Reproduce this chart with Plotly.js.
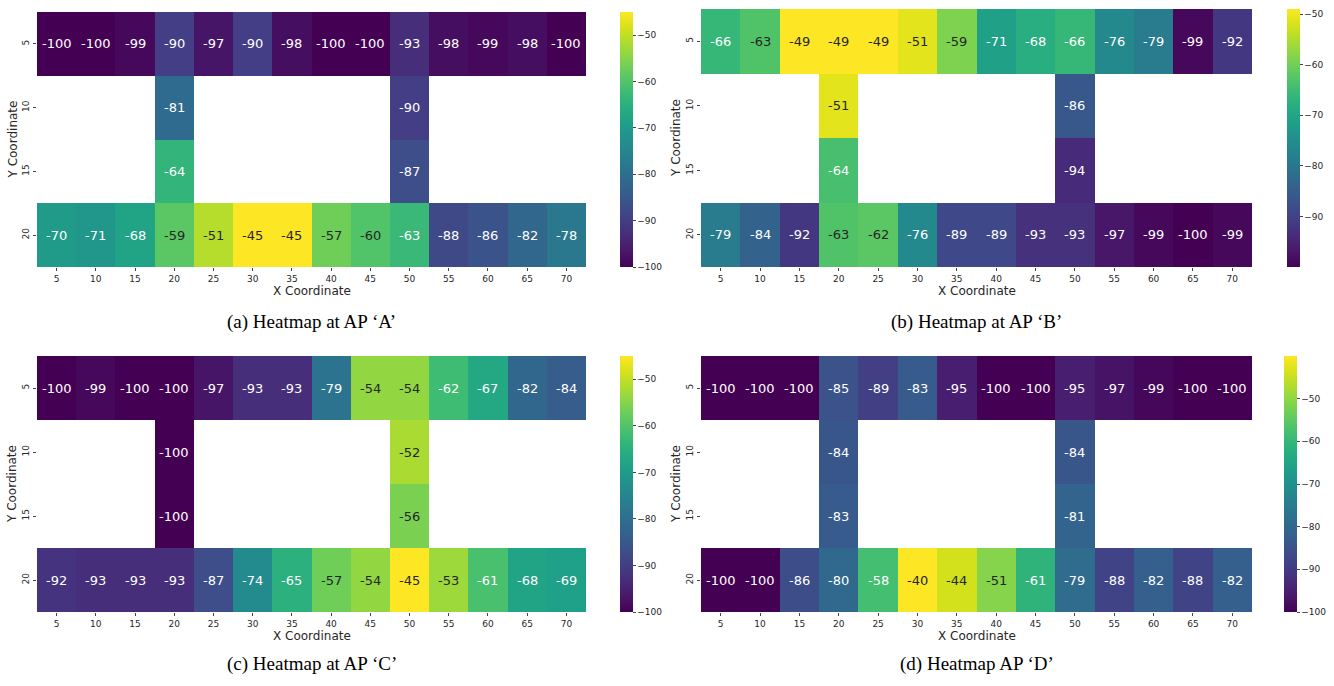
<!DOCTYPE html>
<html>
<head>
<meta charset="utf-8">
<script src="https://cdn.plot.ly/plotly-3.0.1.min.js"></script>
<style>html,body{margin:0;padding:0;background:#fff;}#chart{width:1334px;height:686px;}</style>
</head>
<body>
<div id="chart"></div>
<script>
// ---- Data ----
const xCoords = [5, 10, 15, 20, 25, 30, 35, 40, 45, 50, 55, 60, 65, 70];
const yCoords = [5, 10, 15, 20];
const n = null;

const apA_y5  = [-100, -100, -99, -90, -97, -90, -98, -100, -100, -93, -98, -99, -98, -100];
const apA_y10 = [n, n, n, -81, n, n, n, n, n, -90, n, n, n, n];
const apA_y15 = [n, n, n, -64, n, n, n, n, n, -87, n, n, n, n];
const apA_y20 = [-70, -71, -68, -59, -51, -45, -45, -57, -60, -63, -88, -86, -82, -78];

const apB_y5  = [-66, -63, -49, -49, -49, -51, -59, -71, -68, -66, -76, -79, -99, -92];
const apB_y10 = [n, n, n, -51, n, n, n, n, n, -86, n, n, n, n];
const apB_y15 = [n, n, n, -64, n, n, n, n, n, -94, n, n, n, n];
const apB_y20 = [-79, -84, -92, -63, -62, -76, -89, -89, -93, -93, -97, -99, -100, -99];

const apC_y5  = [-100, -99, -100, -100, -97, -93, -93, -79, -54, -54, -62, -67, -82, -84];
const apC_y10 = [n, n, n, -100, n, n, n, n, n, -52, n, n, n, n];
const apC_y15 = [n, n, n, -100, n, n, n, n, n, -56, n, n, n, n];
const apC_y20 = [-92, -93, -93, -93, -87, -74, -65, -57, -54, -45, -53, -61, -68, -69];

const apD_y5  = [-100, -100, -100, -85, -89, -83, -95, -100, -100, -95, -97, -99, -100, -100];
const apD_y10 = [n, n, n, -84, n, n, n, n, n, -84, n, n, n, n];
const apD_y15 = [n, n, n, -83, n, n, n, n, n, -81, n, n, n, n];
const apD_y20 = [-100, -100, -86, -80, -58, -40, -44, -51, -61, -79, -88, -82, -88, -82];

const cbTicksA = [-100, -90, -80, -70, -60, -50];
const cbTicksB = [-90, -80, -70, -60, -50];
const cbTicksC = [-100, -90, -80, -70, -60, -50];
const cbTicksD = [-100, -90, -80, -70, -60, -50];

const xTitle = "X Coordinate";
const yTitle = "Y Coordinate";
const captions = ["(a) Heatmap at AP \u2018A\u2019", "(b) Heatmap at AP \u2018B\u2019",
                  "(c) Heatmap at AP \u2018C\u2019", "(d) Heatmap AP \u2018D\u2019"];

// ---- Styling ----
const viridis = [[0,'#440154'],[0.0627,'#48186a'],[0.1255,'#472d7b'],[0.1882,'#424086'],[0.2510,'#3b528b'],[0.3137,'#33638d'],[0.3765,'#2c728e'],[0.4392,'#26828e'],[0.5020,'#21918c'],[0.5647,'#1fa088'],[0.6275,'#28ae80'],[0.6902,'#3fbc73'],[0.7529,'#5ec962'],[0.8157,'#84d44b'],[0.8784,'#addc30'],[0.9412,'#d8e219'],[1,'#fde725']];

function hex2rgb(h){return [parseInt(h.slice(1,3),16),parseInt(h.slice(3,5),16),parseInt(h.slice(5,7),16)];}
function colorAt(t){
  t=Math.max(0,Math.min(1,t));
  for(let i=1;i<viridis.length;i++){
    if(t<=viridis[i][0]){
      const a=viridis[i-1],b=viridis[i];
      const f=(t-a[0])/(b[0]-a[0]);
      const ca=hex2rgb(a[1]),cb=hex2rgb(b[1]);
      return ca.map((v,k)=>v+(cb[k]-v)*f);
    }
  }
  return hex2rgb(viridis[viridis.length-1][1]);
}
function lum(rgb){
  const c=rgb.map(v=>{v/=255;return v<=0.03928?v/12.92:Math.pow((v+0.055)/1.055,2.4);});
  return 0.2126*c[0]+0.7152*c[1]+0.0722*c[2];
}

const W=1334,H=686;
const panels = [
  {z:[apA_y5,apA_y10,apA_y15,apA_y20], ticks:cbTicksA, hx:[37,586], hy:[12,267], cbx:620, cap:[311.5,322]},
  {z:[apB_y5,apB_y10,apB_y15,apB_y20], ticks:cbTicksB, hx:[701,1252], hy:[9,267], cbx:1287, cap:[976.5,322]},
  {z:[apC_y5,apC_y10,apC_y15,apC_y20], ticks:cbTicksC, hx:[37,586], hy:[356,612], cbx:620, cap:[311.5,664]},
  {z:[apD_y5,apD_y10,apD_y15,apD_y20], ticks:cbTicksD, hx:[701,1252], hy:[356,612], cbx:1284, cap:[976.5,664]}
];

const data=[], annotations=[];
const layout={
  width:W,height:H,margin:{l:0,r:0,t:0,b:0},
  paper_bgcolor:'#fff',plot_bgcolor:'#fff',
  font:{family:'DejaVu Sans',color:'#262626'},
  showlegend:false
};
const tickFont={family:'DejaVu Sans',size:9,color:'#262626'};
const titleFont={family:'DejaVu Sans',size:12,color:'#262626'};

panels.forEach((p,i)=>{
  const idx=i+1, sx=idx===1?'':String(idx);
  const flat=p.z.flat().filter(v=>v!==null);
  const zmin=Math.min(...flat), zmax=Math.max(...flat);
  data.push({
    type:'heatmap', x:xCoords, y:yCoords, z:p.z,
    xaxis:'x'+sx, yaxis:'y'+sx,
    colorscale:viridis, zmin:zmin, zmax:zmax,
    hoverongaps:false,
    colorbar:{
      x:p.cbx/W, xanchor:'left', xref:'paper',
      y:1-(p.hy[0]+p.hy[1])/2/H, yanchor:'middle', yref:'paper',
      len:(p.hy[1]-p.hy[0])/H, lenmode:'fraction',
      thickness:13, thicknessmode:'pixels',
      outlinewidth:0, ticks:'outside', ticklen:3, tickwidth:1, tickcolor:'#444',
      tickvals:p.ticks, tickfont:tickFont, xpad:0, ypad:0
    }
  });
  layout['xaxis'+sx]={
    domain:[p.hx[0]/W,p.hx[1]/W], anchor:'y'+sx,
    range:[2.5,72.5], tickvals:xCoords, ticks:'outside', ticklen:3, tickcolor:'#444',
    tickfont:tickFont, showgrid:false, zeroline:false, showline:false
  };
  layout['yaxis'+sx]={
    domain:[1-p.hy[1]/H,1-p.hy[0]/H], anchor:'x'+sx,
    range:[22.5,2.5], tickvals:yCoords, ticks:'outside', ticklen:3, tickcolor:'#444',
    tickangle:-90, tickfont:tickFont, showgrid:false, zeroline:false, showline:false
  };
  // axis titles
  annotations.push({x:(p.hx[0]+p.hx[1])/2/W, y:1-(p.hy[1]+24)/H, xref:'paper', yref:'paper',
    text:xTitle, showarrow:false, xanchor:'center', yanchor:'middle', font:titleFont});
  annotations.push({x:(p.hx[0]-25)/W, y:1-(p.hy[0]+p.hy[1])/2/H, xref:'paper', yref:'paper',
    text:yTitle, showarrow:false, textangle:-90, xanchor:'center', yanchor:'middle', font:titleFont});
  p.z.forEach((row,r)=>{
    row.forEach((v,c)=>{
      if(v===null) return;
      const t=(v-zmin)/(zmax-zmin);
      const col=lum(colorAt(t))>0.408?'#262626':'#ffffff';
      annotations.push({x:xCoords[c],y:yCoords[r],xref:'x'+sx,yref:'y'+sx,
        text:String(v),showarrow:false,font:{family:'DejaVu Sans',size:13,color:col}});
    });
  });
  annotations.push({x:p.cap[0]/W,y:1-p.cap[1]/H,xref:'paper',yref:'paper',
    text:captions[i],showarrow:false,xanchor:'center',yanchor:'middle',
    font:{family:'Liberation Serif',size:19,color:'#000'}});
});
layout.annotations=annotations;
Plotly.newPlot('chart',data,layout,{displayModeBar:false,staticPlot:true});
</script>
</body>
</html>
